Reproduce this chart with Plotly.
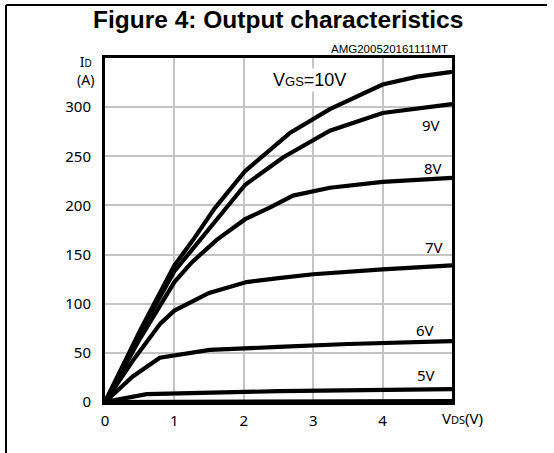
import plotly.graph_objects as go

# ---- data ----
x_10v = [0, 0.5, 1.0, 1.27, 1.58, 2.02, 2.67, 3.24, 4.0, 4.5, 5.0]
y_10v = [0, 72, 139, 165, 197, 235, 274, 298, 323, 331, 336]
x_9v = [0, 0.5, 1.0, 1.37, 2.02, 2.57, 3.24, 4.0, 4.5, 5.0]
y_9v = [0, 70, 133, 165, 221, 249, 276, 294, 299, 303]
x_8v = [0, 0.5, 1.0, 1.25, 1.61, 2.02, 2.38, 2.71, 3.24, 4.0, 5.0]
y_8v = [0, 64, 122, 142, 165, 186, 198, 210, 218, 224, 228]
x_7v = [0, 0.4, 0.8, 1.0, 1.5, 2.04, 2.5, 3.0, 4.0, 5.0]
y_7v = [0, 42, 80, 93, 111, 122, 126, 130, 135, 139]
x_6v = [0, 0.4, 0.79, 1.51, 2.5, 3.5, 5.0]
y_6v = [0, 26, 45, 53, 56, 59, 62]
x_5v = [0, 0.6, 2.5, 5.0]
y_5v = [0, 8, 11, 13]
x_4v = [0, 5.0]
y_4v = [0, 1]

series = [
    (x_10v, y_10v), (x_9v, y_9v), (x_8v, y_8v), (x_7v, y_7v),
    (x_6v, y_6v), (x_5v, y_5v), (x_4v, y_4v),
]

curve_labels = ["9V", "8V", "7V", "6V", "5V"]
label_x = [4.70, 4.72, 4.74, 4.61, 4.63]
label_y = [282, 238, 158, 73, 27]

x_ticks = [0, 1, 2, 3, 4]
y_ticks = [0, 50, 100, 150, 200, 250, 300]

# ---- figure ----
fig = go.Figure()
for xs, ys in series:
    fig.add_trace(go.Scatter(x=xs, y=ys, mode="lines",
                             line=dict(color="black", width=4.2),
                             showlegend=False, hoverinfo="skip"))

tick_font = dict(family="Noto Sans, DejaVu Sans, sans-serif", size=15, color="black")

fig.update_layout(
    width=554, height=453, autosize=False,
    margin=dict(l=105, r=102, t=58, b=51),
    paper_bgcolor="white", plot_bgcolor="white",
    xaxis=dict(range=[0, 5], tickvals=x_ticks, ticktext=[str(v) for v in x_ticks],
               showgrid=True, gridcolor="#c4c4c4", gridwidth=1.5,
               showline=True, linecolor="black", linewidth=3, mirror=True,
               zeroline=False, ticks="", ticklabelstandoff=3, tickfont=tick_font),
    yaxis=dict(range=[0, 350], tickvals=y_ticks, ticktext=[str(v) for v in y_ticks],
               showgrid=True, gridcolor="#c4c4c4", gridwidth=1.5,
               showline=True, linecolor="black", linewidth=3, mirror=True,
               zeroline=False, ticks="", ticklabelstandoff=8, tickfont=tick_font),
)

ann_font = dict(family="Noto Sans, DejaVu Sans, sans-serif", size=15, color="black")
for t, lx, ly in zip(curve_labels, label_x, label_y):
    fig.add_annotation(x=lx, y=ly, text=t, showarrow=False, font=ann_font,
                       xanchor="center", yanchor="middle")

fig.add_annotation(x=2.95, y=328, text="V<span style='font-size:13px'>GS</span>=10V",
                   showarrow=False, bgcolor="white", xanchor="center", yanchor="middle",
                   font=dict(family="Liberation Sans, Arial, sans-serif", size=18, color="black"))


def px_x(p):
    return (p - 105) / 347


def px_y(p):
    return (402 - p) / 344


# title and code
fig.add_annotation(xref="paper", yref="paper", x=px_x(278), y=px_y(19), xanchor="center", yanchor="middle",
                   text="<b>Figure 4: Output characteristics</b>", showarrow=False,
                   font=dict(family="Liberation Sans, Arial, sans-serif", size=24.5, color="black"))
fig.add_annotation(xref="paper", yref="paper", x=px_x(450), y=px_y(57), xanchor="right", yanchor="bottom",
                   text="AMG200520161111MT", showarrow=False,
                   font=dict(family="Liberation Sans, Arial, sans-serif", size=11.5, color="black"))

# axis titles
fig.add_annotation(xref="paper", yref="paper", x=px_x(85), y=px_y(71), xanchor="center", yanchor="middle",
                   text="I<span style='font-size:10px'>D</span><br>(A)", showarrow=False,
                   font=dict(family="Noto Sans, DejaVu Sans, sans-serif", size=14, color="black"))
fig.add_annotation(xref="paper", yref="paper", x=px_x(463), y=px_y(418), xanchor="center", yanchor="middle",
                   text="V<span style='font-size:11px'>DS</span>(V)", showarrow=False, font=ann_font)

# outer frame lines (top and left)
fig.add_shape(type="line", xref="paper", yref="paper", x0=px_x(6), x1=px_x(547),
              y0=px_y(5), y1=px_y(5), line=dict(color="black", width=2))
fig.add_shape(type="line", xref="paper", yref="paper", x0=px_x(6), x1=px_x(6),
              y0=px_y(5), y1=px_y(460), line=dict(color="black", width=2))

fig.write_html("out.html", config={"displayModeBar": False},
               post_script="document.body.style.margin='0';document.body.style.overflow='hidden';")
